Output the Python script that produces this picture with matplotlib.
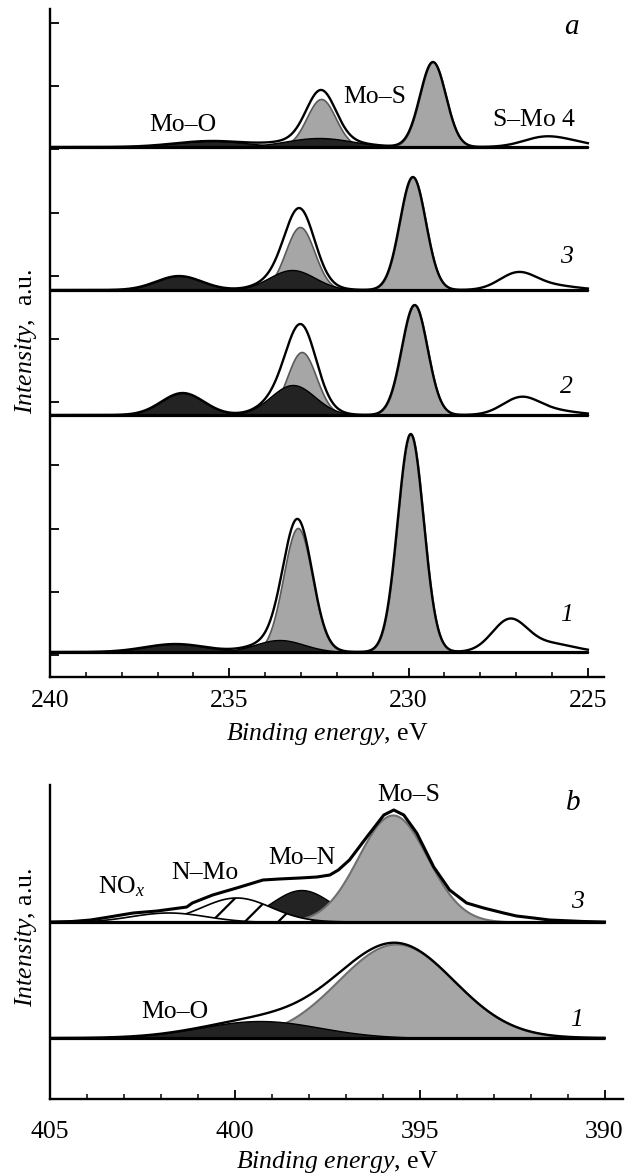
import numpy as np
import matplotlib
matplotlib.use("Agg")
import matplotlib.pyplot as plt
from matplotlib.ticker import MultipleLocator, FixedLocator

plt.rcParams['font.family'] = ['Liberation Serif', 'DejaVu Serif']
plt.rcParams['mathtext.fontset'] = 'custom'
plt.rcParams['mathtext.rm'] = 'Liberation Serif'
plt.rcParams['mathtext.it'] = 'Liberation Serif:italic'
plt.rcParams['hatch.linewidth'] = 1.6

# ---------------- data: panel a (Mo 3d), curves 1..4 ----------------
a_curve_labels = ['1', '2', '3', '4']
# Mo–S doublet (3d5/2, 3d3/2): centre (eV), height (a.u.), FWHM (eV)
a_mos_center = [[229.94, 233.09], [229.83, 232.98], [229.88, 233.03], [229.32, 232.44]]
a_mos_height = [[218, 124], [110, 63], [113, 63], [85, 48]]
a_mos_fwhm = [[0.85, 0.95], [0.85, 0.95], [0.85, 0.95], [0.85, 0.95]]
# Mo–O doublet
a_moo_center = [[236.5, 233.6], [236.3, 233.23], [236.4, 233.25], [235.5, 232.5]]
a_moo_height = [[8, 12], [22, 30], [14, 20], [6, 9]]
a_moo_fwhm = [[2.0, 1.6], [1.4, 1.45], [1.5, 1.5], [2.4, 2.2]]
# S–Mo (S 2s) peak and tail, unfilled
a_smo_center = [[227.18, 226.0], [226.87, 225.9], [226.95, 225.9], [226.2, 225.3]]
a_smo_height = [[32, 8], [17, 4], [17, 4], [10, 3]]
a_smo_fwhm = [[1.15, 1.5], [1.2, 1.5], [1.2, 1.5], [1.4, 1.2]]

# ---------------- data: panel b (N 1s / Mo 3p), curves 1 and 3 ----------------
b_curve_labels = ['1', '3']
b_mos_center = [395.64, 395.73]
b_mos_height = [94, 107]
b_mos_fwhm = [3.7, 2.2]
# curve 1: Mo–O
b1_moo = (399.32, 17, 3.8)
# curve 3: Mo–N, N–Mo, NOx
b3_mon = (398.2, 32, 1.9)
b3_nmo = (399.95, 24, 2.2)
b3_nox = (401.8, 9.5, 2.4)
# curve 3 measured envelope
b3_env_energy = [405.0, 404.4, 403.9, 403.4, 402.75, 402.1, 401.5, 401.3, 401.15, 400.6,
                 399.86, 399.24, 398.8, 398.24, 397.78, 397.43, 397.2, 396.9, 396.43,
                 395.97, 395.7, 395.43, 395.08, 394.62, 394.19, 393.73, 393.27, 392.73,
                 392.38, 391.92, 391.49, 390.57, 390.0]
b3_env_int = [0, 0.5, 2, 5, 9, 11, 14, 15, 19, 27, 35, 42, 43, 44, 45, 47, 52, 62, 85,
              107, 112, 107, 89, 55, 32, 19, 14, 9, 6, 4, 2, 0.5, 0]

# ---------------- layout / style ----------------
A_OFFSETS = [25, 262, 387, 530]
B_OFFSETS = [61, 177]
GRAY = '#a6a6a6'
GRAY_EDGE = '#5a5a5a'
DARK = '#232323'
FS = 18.5


def gauss(e, c, h, w):
    s = w / 2.3548
    return h * np.exp(-0.5 * ((e - c) / s) ** 2)


W, H = 637, 1176
fig = plt.figure(figsize=(W / 100, H / 100), dpi=100)
axA = fig.add_axes([50 / W, 1 - 677 / H, 554 / W, 668 / H])
axB = fig.add_axes([50 / W, 1 - 1099 / H, 573 / W, 314 / H])

for ax in (axA, axB):
    for s in ('top', 'right'):
        ax.spines[s].set_visible(False)
    for s in ('left', 'bottom'):
        ax.spines[s].set_linewidth(1.7)
    ax.xaxis.set_major_locator(MultipleLocator(5))
    ax.xaxis.set_minor_locator(MultipleLocator(1))
    ax.tick_params(axis='x', which='major', direction='in', length=6.5, width=1.3,
                   labelsize=FS)
    ax.tick_params(axis='x', which='minor', direction='in', length=3.6, width=1.1)

axA.tick_params(axis='x', which='major', pad=9.5)
axB.tick_params(axis='x', which='major', pad=16)

# ---- panel a ----
axA.set_xlim(240, 224.55)
axA.set_ylim(0, 668)
axA.yaxis.set_major_locator(FixedLocator([22 + 63.2 * k for k in range(11)]))
axA.tick_params(axis='y', direction='in', length=6.5, width=1.3, labelleft=False)

ea = np.linspace(240, 225, 1501)
for i in range(4):
    off = A_OFFSETS[i]
    grays = [gauss(ea, c, h, w) for c, h, w in zip(a_mos_center[i], a_mos_height[i], a_mos_fwhm[i])]
    darks = [gauss(ea, c, h, w) for c, h, w in zip(a_moo_center[i], a_moo_height[i], a_moo_fwhm[i])]
    sps = [gauss(ea, c, h, w) for c, h, w in zip(a_smo_center[i], a_smo_height[i], a_smo_fwhm[i])]
    total = sum(grays) + sum(darks) + sum(sps)
    for g in grays:
        axA.fill_between(ea, off, off + g, facecolor=GRAY, edgecolor=GRAY_EDGE, lw=1.2, zorder=2)
    for d in darks:
        axA.fill_between(ea, off, off + d, facecolor=DARK, edgecolor='black', lw=1.0, zorder=3)
    axA.plot(ea, off + total, color='black', lw=1.7, zorder=4)
    axA.plot([240, 225], [off, off], color='black', lw=2.3, zorder=5, solid_capstyle='butt')

# curve numbers and labels
lab_y = [62, 290, 420]
for i in range(3):
    axA.text(225.59, lab_y[i], a_curve_labels[i], fontsize=FS, fontstyle='italic',
             ha='center', va='center')
axA.text(227.68, 557, r"S–Mo $\mathit{4}$", fontsize=FS, ha='left', va='center')
axA.text(236.29, 552, "Mo–O", fontsize=FS, ha='center', va='center')
axA.text(230.94, 580, "Mo–S", fontsize=FS, ha='center', va='center')
axA.text(225.45, 650, "a", fontsize=21, fontstyle='italic', ha='center', va='center')

# ---- panel b ----
axB.set_xlim(405, 389.5)
axB.set_ylim(0, 314)
axB.tick_params(axis='y', left=False, labelleft=False)

eb = np.linspace(405, 390, 1501)
# curve 1
off = B_OFFSETS[0]
g1 = gauss(eb, b_mos_center[0], b_mos_height[0], b_mos_fwhm[0])
d1 = gauss(eb, *b1_moo)
axB.fill_between(eb, off, off + g1, facecolor=GRAY, edgecolor='#707070', lw=1.5, zorder=2)
axB.fill_between(eb, off, off + d1, facecolor=DARK, edgecolor='black', lw=1.0, zorder=3)
axB.plot(eb, off + g1 + d1, color='black', lw=1.7, zorder=4)
axB.plot([405, 390], [off, off], color='black', lw=2.3, zorder=5, solid_capstyle='butt')

# curve 3
off = B_OFFSETS[1]
g3 = gauss(eb, b_mos_center[1], b_mos_height[1], b_mos_fwhm[1])
n3 = gauss(eb, *b3_mon)
h3 = gauss(eb, *b3_nmo)
x3 = gauss(eb, *b3_nox)
axB.fill_between(eb, off, off + n3, facecolor=DARK, edgecolor='black', lw=1.0, zorder=2)
axB.fill_between(eb, off, off + g3, facecolor=GRAY, edgecolor='#707070', lw=1.5, zorder=3)
axB.fill_between(eb, off, off + h3, facecolor='white', edgecolor='black', hatch='/',
                 lw=1.2, zorder=3.5)
axB.fill_between(eb, off, off + x3, facecolor='white', edgecolor='black', lw=1.2, zorder=3.7)
axB.plot(b3_env_energy, off + np.array(b3_env_int), color='black', lw=2.2, zorder=5)
axB.plot([405, 390], [off, off], color='black', lw=2.3, zorder=5, solid_capstyle='butt')

axB.text(390.76, 79, b_curve_labels[0], fontsize=FS, fontstyle='italic', ha='center', va='center')
axB.text(390.73, 197, b_curve_labels[1], fontsize=FS, fontstyle='italic', ha='center', va='center')
axB.text(395.3, 304, "Mo–S", fontsize=FS, ha='center', va='center')
axB.text(398.19, 241, "Mo–N", fontsize=FS, ha='center', va='center')
axB.text(400.81, 226, "N–Mo", fontsize=FS, ha='center', va='center')
axB.text(403.05, 212, r"NO$_{\mathit{x}}$", fontsize=FS, ha='center', va='center')
axB.text(401.62, 87, "Mo–O", fontsize=FS, ha='center', va='center')
axB.text(390.84, 296, "b", fontsize=21, fontstyle='italic', ha='center', va='center')

# axis titles
fig.text(327 / W, 1 - 740 / H, r"$\mathit{Binding\ energy}$, eV", fontsize=FS,
         ha='center', va='baseline')
fig.text(337 / W, 1 - 1168 / H, r"$\mathit{Binding\ energy}$, eV", fontsize=FS,
         ha='center', va='baseline')
fig.text(26 / W, 1 - 341 / H, r"$\mathit{Intensity}$,  a.u.", fontsize=FS,
         rotation=90, ha='center', va='center')
fig.text(26 / W, 1 - 937 / H, r"$\mathit{Intensity}$, a.u.", fontsize=FS,
         rotation=90, ha='center', va='center')

fig.savefig("out.png", dpi=100)
